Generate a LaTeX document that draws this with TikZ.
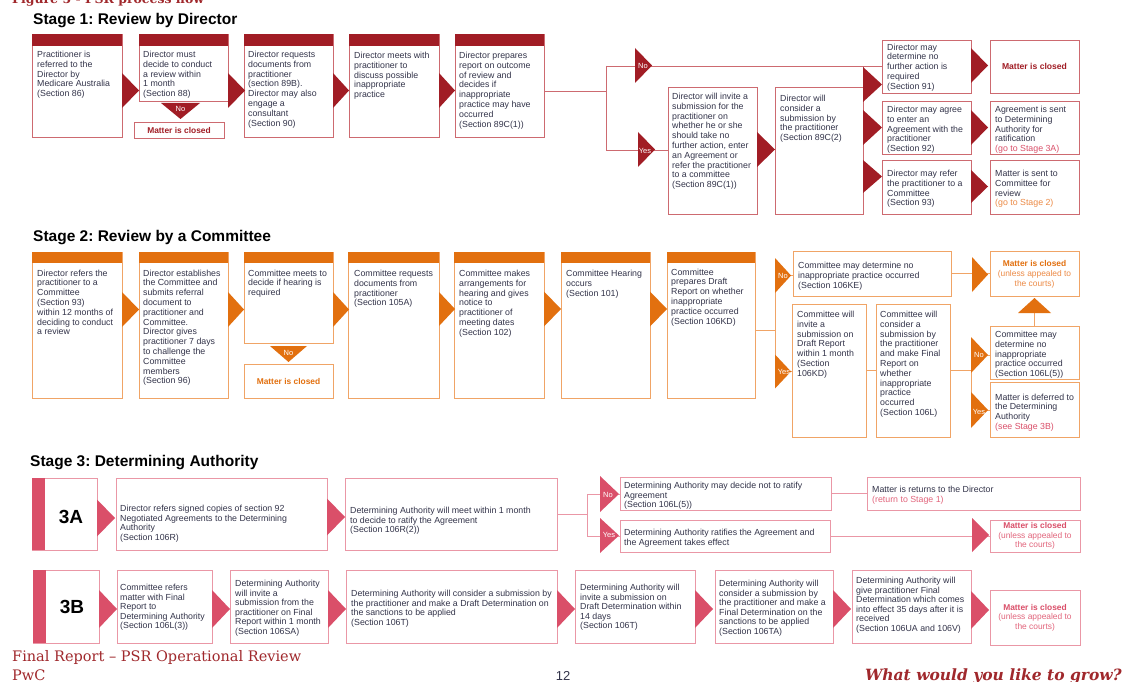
\documentclass[tikz,border=0pt]{standalone}
\usepackage{fontspec}
\setmainfont{Liberation Sans}
\newfontfamily\ftserif{DejaVu Serif}
\usetikzlibrary{fit}
\frenchspacing
\definecolor{rA}{HTML}{A11D25}
\definecolor{rAl}{HTML}{CD6A70}
\definecolor{oB}{HTML}{E2700F}
\definecolor{oBl}{HTML}{F0A466}
\definecolor{oBt}{HTML}{EC8A45}
\definecolor{pC}{HTML}{DA4F69}
\definecolor{pCl}{HTML}{EA97A6}
\definecolor{pCt}{HTML}{E2657C}
\definecolor{txc}{HTML}{33344A}
\definecolor{foot}{HTML}{A0282C}
\newcommand\rtri[5]{\fill[#1] (#2,#3-#5) -- (#2+#4,#3) -- (#2,#3+#5) -- cycle;}
\newcommand\hdr[3]{\fill[#1] (#2.north west) rectangle ([yshift=-#3pt]#2.north east);}
\tikzset{
 bA/.style={draw=rAl, line width=0.9pt, inner sep=0pt},
 bB/.style={draw=oBl, line width=0.9pt, inner sep=0pt},
 bC/.style={draw=pCl, line width=0.9pt, inner sep=0pt},
 lA/.style={draw=rAl, line width=0.9pt},
 lB/.style={draw=oBl, line width=0.9pt},
 lC/.style={draw=pCl, line width=0.9pt},
 tx/.style={font=\fontsize{8.8}{9.8}\selectfont, text=txc, align=left, inner sep=0pt, anchor=north west},
 tx3/.style={tx, font=\fontsize{8.8}{9.6}\selectfont},
 lab/.style={font=\fontsize{7.5}{8}\selectfont, text=white, inner sep=0pt},
 ttl/.style={font=\bfseries\fontsize{15.5}{18}\selectfont, anchor=west, inner sep=0pt},
 cl/.style={font=\fontsize{8.4}{9.7}\selectfont, inner sep=0pt, align=center},
}
\begin{document}
\begin{tikzpicture}[x=1pt,y=-1pt]
\path[use as bounding box] (0,0) rectangle (1125,682);
\clip (0,0) rectangle (1125,682);
\fill[white] (0,0) rectangle (1125,682);
\node[anchor=base west, inner sep=0pt, font=\ftserif\bfseries\fontsize{12.5}{14}\selectfont, text=foot] (fig) at (12,4) {Figure 5 - PSR process flow};

% ---------------- Stage 1 ----------------
\node[ttl] (t1) at (33,21) {Stage 1: Review by Director};
\node[bA, fit={(32,34)(122,137)}] (a1) {};
\node[bA, fit={(139,34)(228,101)}] (a2) {};
\node[bA, fit={(244,34)(333,137)}] (a3) {};
\node[bA, fit={(349,34)(439,137)}] (a4) {};
\node[bA, fit={(455,34)(544,137)}] (a5) {};
\foreach \n in {a1,a2,a3,a4,a5}{\hdr{rA}{\n}{12}}
\node[bA, fit={(134,122)(224,138)}] (a2c) {};
\node[bA, fit={(668,87)(757,214)}] (ainv) {};
\node[bA, fit={(775,87)(863,214)}] (acon) {};
\node[bA, fit={(882,40)(971,93)}] (d1) {};
\node[bA, fit={(882,101)(971,154)}] (d2) {};
\node[bA, fit={(882,160)(971,214)}] (d3) {};
\node[bA, fit={(990,40)(1079,93)}] (e1) {};
\node[bA, fit={(990,101)(1079,154)}] (e2) {};
\node[bA, fit={(990,160)(1079,214)}] (e3) {};

\coordinate (s1j) at (606,91);
\coordinate (s1n) at (606,66);
\coordinate (s1y) at (606,150);
\draw[lA] (a5.east |- s1j) -- (s1j);
\draw[lA] (s1n) -- (s1y);
\draw[lA] (s1n) -- (d1.west |- s1n);
\draw[lA] (s1y) -- (ainv.west |- s1y);
\draw[lA] (acon.north east) -- (acon.north east |- s1n);

\rtri{rA}{122}{90.5}{17}{17.5}
\rtri{rA}{228}{90.5}{17}{17.5}
\rtri{rA}{333}{90.5}{16}{17.5}
\rtri{rA}{439}{90.5}{16}{17.5}
\fill[rA] (161,103) -- (200,103) -- (180.5,119) -- cycle;
\node[lab] (l1) at (180.5,109) {No};
\rtri{rA}{635}{65.5}{17}{17.5}
\node[lab] (l2) at (643,66) {No};
\rtri{rA}{638}{149.5}{17}{17.5}
\node[lab] (l3) at (645,151) {Yes};
\rtri{rA}{757}{149.5}{18}{17.5}
\rtri{rA}{863}{84.5}{19}{17.5}
\rtri{rA}{863}{127.5}{19}{17.5}
\rtri{rA}{863}{176.5}{19}{16.5}
\rtri{rA}{971}{65.5}{17}{17.5}
\rtri{rA}{971}{127.5}{17}{17.5}
\rtri{rA}{971}{186.5}{17}{16.5}

\node[tx] (a1t) at (37,51) {Practitioner is\\referred to the\\Director by\\Medicare Australia\\(Section 86)};
\node[tx] (a2t) at (143,51) {Director must\\decide to conduct\\ a review within\\1 month\\(Section 88)};
\node[cl, text=rA, font=\bfseries\fontsize{8.4}{9}\selectfont] (a2ct) at (a2c.center) {Matter is closed};
\node[tx] (a3t) at (248,51) {Director requests\\documents from\\practitioner\\(section 89B).\\Director may also\\engage a\\consultant\\(Section 90)};
\node[tx] (a4t) at (354,52) {Director meets with\\practitioner to\\discuss possible\\inappropriate\\practice};
\node[tx] (a5t) at (459,52) {Director prepares\\report on outcome\\of review and\\decides if\\inappropriate\\practice may have\\occurred\\(Section 89C(1))};
\node[tx] (ainvt) at (672,93) {Director will invite a\\submission for the\\practitioner on\\whether he or she\\should take no\\further action, enter\\an Agreement or\\refer the practitioner\\to a committee\\(Section 89C(1))};
\node[tx] (acont) at (780,95) {Director will\\consider a\\submission by\\the practitioner\\(Section 89C(2)};
\node[tx] (d1t) at (887,43.5) {Director may\\determine no\\further action is\\required\\(Section 91)};
\node[tx] (d2t) at (887,106) {Director may agree\\to enter an\\Agreement with the\\practitioner\\(Section 92)};
\node[tx] (d3t) at (887,170) {Director may refer\\the practitioner to a\\Committee\\(Section 93)};
\node[cl, text=rA, font=\bfseries\fontsize{8.6}{9}\selectfont] (e1t) at (e1.center) {Matter is closed};
\node[tx] (e2t) at (995,106) {Agreement is sent\\to Determining\\Authority for\\ratification\\{\color{pC}(go to Stage 3A)}};
\node[tx] (e3t) at (995,170) {Matter is sent to\\Committee for\\review\\{\color{oBt}(go to Stage 2)}};

% ---------------- Stage 2 ----------------
\node[ttl] (t2) at (33,238) {Stage 2: Review by a Committee};
\node[bB, fit={(32,252)(122,398)}] (b1) {};
\node[bB, fit={(139,252)(228,398)}] (b2) {};
\node[bB, fit={(244,252)(333,343)}] (b3) {};
\node[bB, fit={(348,252)(439,398)}] (b4) {};
\node[bB, fit={(454,252)(544,398)}] (b5) {};
\node[bB, fit={(561,252)(650,398)}] (b6) {};
\node[bB, fit={(667,252)(755,398)}] (b7) {};
\foreach \n in {b1,b2,b3,b4,b5,b6,b7}{\hdr{oB}{\n}{11}}
\node[bB, fit={(244,364)(333,398)}] (b3c) {};
\node[bB, fit={(793,251)(951,296)}] (bk) {};
\node[bB, fit={(990,251)(1079,296)}] (bcl) {};
\node[bB, fit={(792,304)(866,437)}] (binv) {};
\node[bB, fit={(876,304)(950,437)}] (bcon) {};
\node[bB, fit={(990,326)(1079,379)}] (bl5) {};
\node[bB, fit={(990,382)(1079,437)}] (bdf) {};

\coordinate (s2j) at (775,330);
\coordinate (s2n) at (775,275.5);
\coordinate (s2y) at (775,371.5);
\draw[lB] (b7.east |- s2j) -- (s2j);
\draw[lB] (s2n) -- (s2y);
\draw[lB] (s2n) -- (bk.west |- s2n);
\draw[lB] (s2y) -- (binv.west |- s2y);
\draw[lB] (bk.east) -- (bcl.west);
\draw[lB] (binv.east) -- (bcon.west);
\coordinate (s2k) at (971,370.5);
\coordinate (s2kn) at (971,355);
\coordinate (s2ky) at (971,410);
\draw[lB] (bcon.east) -- (s2k);
\draw[lB] (s2kn) -- (s2ky);
\draw[lB] (s2kn) -- (bl5.west |- s2kn);
\draw[lB] (s2ky) -- (bdf.west |- s2ky);
\coordinate (s2up) at (1034.5,313);
\draw[lB] (bl5.north) -- (s2up);
\fill[oB] (1018,313) -- (1051,313) -- (1034.5,298) -- cycle;

\rtri{oB}{122}{309.5}{17}{17.5}
\rtri{oB}{228}{309.5}{16}{17.5}
\rtri{oB}{333}{309.5}{16}{17.5}
\rtri{oB}{439}{309}{16}{17}
\rtri{oB}{544}{309}{17}{17.5}
\rtri{oB}{650}{309}{17}{17.5}
\fill[oB] (270,346) -- (307,346) -- (288.5,362) -- cycle;
\node[lab] (l4) at (288.5,353) {No};
\rtri{oB}{775}{275.5}{16}{17.5}
\node[lab] (l5) at (783,276) {No};
\rtri{oB}{775}{371.5}{16}{17}
\node[lab] (l6) at (784,372) {Yes};
\rtri{oB}{972}{274.5}{16}{17.5}
\rtri{oB}{971}{355}{17}{18}
\node[lab] (l7) at (979,355) {No};
\rtri{oB}{971}{410}{17}{18}
\node[lab] (l8) at (979,412) {Yes};

\node[tx] (b1t) at (37,269.5) {Director refers the\\practitioner to a\\Committee\\(Section 93)\\within 12 months of\\deciding to conduct\\a review};
\node[tx] (b2t) at (143,269.5) {Director establishes\\the Committee and\\submits referral\\document to\\practitioner and\\Committee.\\Director gives\\practitioner 7 days\\to challenge the\\Committee\\members\\(Section 96)};
\node[tx] (b3t) at (248,269.5) {Committee meets to\\decide if hearing is\\required};
\node[cl, text=oB, font=\bfseries\fontsize{8.4}{9}\selectfont] (b3ct) at (b3c.center) {Matter is closed};
\node[tx] (b4t) at (354,270) {Committee requests\\documents from\\practitioner\\(Section 105A)};
\node[tx] (b5t) at (459,270) {Committee makes\\arrangements for\\hearing and gives\\notice to\\practitioner of\\meeting dates\\(Section 102)};
\node[tx] (b6t) at (566,270) {Committee Hearing\\occurs\\(Section 101)};
\node[tx] (b7t) at (671,268.5) {Committee\\prepares Draft\\Report on whether\\inappropriate\\practice occurred\\(Section 106KD)};
\node[tx] (bkt) at (798,262) {Committee may determine no\\inappropriate practice occurred\\(Section 106KE)};
\node[cl] (bclt) at ([yshift=-1pt]bcl.center) {{\color{oB}\bfseries Matter is closed}\\{\color{oBt}(unless appealed to}\\{\color{oBt}the courts)}};
\node[tx] (binvt) at (797,311) {Committee will\\invite a\\submission on\\Draft Report\\within 1 month\\(Section\\106KD)};
\node[tx] (bcont) at (880,311) {Committee will\\consider a\\submission by\\the practitioner\\and make Final\\Report on\\whether\\inappropriate\\practice\\occurred\\(Section 106L)};
\node[tx] (bl5t) at (995,331) {Committee may\\determine no\\inappropriate\\practice occurred\\(Section 106L(5))};
\node[tx] (bdft) at (995,393.5) {Matter is deferred to\\the Determining\\Authority\\{\color{pC}(see Stage 3B)}};

% ---------------- Stage 3 ----------------
\node[ttl] (t3) at (30,463) {Stage 3: Determining Authority};
\node[bC, fit={(32,478)(97,550)}] (c3a) {};
\fill[pC] (c3a.north west) rectangle ([xshift=13pt]c3a.south west);
\node[font=\bfseries\fontsize{19}{20}\selectfont, inner sep=0pt] (c3al) at (71,517) {3A};
\node[bC, fit={(116,478)(327,550)}] (ca1) {};
\node[bC, fit={(345,478)(557,550)}] (ca2) {};
\node[bC, fit={(620,477)(831,510)}] (cn) {};
\node[bC, fit={(867,477)(1080,510)}] (cr) {};
\node[bC, fit={(620,520)(830,552)}] (cy) {};
\node[bC, fit={(990,520)(1080,552)}] (ccl) {};

\coordinate (s3j) at (587,514);
\coordinate (s3n) at (587,494);
\coordinate (s3y) at (587,536);
\draw[lC] (ca2.east) -- (s3j);
\draw[lC] (s3n) -- (s3y);
\draw[lC] (s3n) -- (cn.west |- s3n);
\draw[lC] (s3y) -- (cy.west |- s3y);
\draw[lC] (cn.east) -- (cr.west);
\draw[lC] (cy.east) -- (ccl.west);

\rtri{pC}{97}{518}{18}{18.5}
\rtri{pC}{327}{517}{18}{18.5}
\rtri{pC}{600}{494}{19}{18}
\node[lab] (l9) at (608,495) {No};
\rtri{pC}{600}{535.5}{19}{17.5}
\node[lab] (l10) at (609,535) {Yes};
\rtri{pC}{972}{535}{17}{17}

\node[tx3] (ca1t) at (120,505) {Director refers signed copies of section 92\\Negotiated Agreements to the Determining\\Authority\\(Section 106R)};
\node[tx3] (ca2t) at (350,507) {Determining Authority will meet within 1 month\\to decide to ratify the Agreement\\(Section 106R(2))};
\node[tx3] (cnt) at (624,482) {Determining Authority may decide not to ratify\\Agreement\\(Section 106L(5))};
\node[tx3] (crt) at (872,486) {Matter is returns to the Director\\{\color{pCt}(return to Stage 1)}};
\node[tx3] (cyt) at (624,529) {Determining Authority ratifies the Agreement and\\the Agreement takes effect};
\node[cl, font=\fontsize{8.4}{9.5}\selectfont] (cclt) at (ccl.center) {{\color{pC}\bfseries Matter is closed}\\{\color{pCt}(unless appealed to}\\{\color{pCt}the courts)}};

\node[bC, fit={(33,570)(99,643)}] (c3b) {};
\fill[pC] (c3b.north west) rectangle ([xshift=13pt]c3b.south west);
\node[font=\bfseries\fontsize{19}{20}\selectfont, inner sep=0pt] (c3bl) at (72,607) {3B};
\node[bC, fit={(117,570)(212,643)}] (cb1) {};
\node[bC, fit={(230,570)(328,643)}] (cb2) {};
\node[bC, fit={(346,570)(557,643)}] (cb3) {};
\node[bC, fit={(575,570)(695,643)}] (cb4) {};
\node[bC, fit={(715,570)(833,643)}] (cb5) {};
\node[bC, fit={(852,570)(971,643)}] (cb6) {};
\node[bC, fit={(990,590)(1080,645)}] (cb7) {};
\rtri{pC}{99}{609}{18}{19}
\rtri{pC}{212}{609}{18}{19}
\rtri{pC}{328}{609}{18}{19}
\rtri{pC}{557}{609}{18}{19}
\rtri{pC}{695}{609}{18}{19}
\rtri{pC}{833}{609}{18}{19}
\rtri{pC}{971}{610}{18}{19}

\node[tx3] (cb1t) at (120,584) {Committee refers\\matter with Final\\Report to\\Determining Authority\\(Section 106L(3))};
\node[tx3] (cb2t) at (235,580) {Determining Authority\\will invite a\\submission from the\\practitioner on Final\\Report within 1 month\\(Section 106SA)};
\node[tx3] (cb3t) at (351,590) {Determining Authority will consider a submission by\\the practitioner and make a Draft Determination on\\the sanctions to be applied\\(Section 106T)};
\node[tx3] (cb4t) at (580,584) {Determining Authority will\\invite a submission on\\Draft Determination within\\14 days\\(Section 106T)};
\node[tx3] (cb5t) at (719,580) {Determining Authority will\\consider a submission by\\the practitioner and make a\\Final Determination on the\\sanctions to be applied\\(Section 106TA)};
\node[tx3] (cb6t) at (856,577) {Determining Authority will\\give practitioner Final\\Determination which comes\\into effect 35 days after it is\\received\\(Section 106UA and 106V)};
\node[cl, font=\fontsize{8.4}{9.5}\selectfont] (cb7t) at (cb7.center) {{\color{pC}\bfseries Matter is closed}\\{\color{pCt}(unless appealed to}\\{\color{pCt}the courts)}};

% ---------------- Footer ----------------
\node[anchor=base west, inner sep=0pt, font=\ftserif\fontsize{14.5}{16}\selectfont, text=foot] (f1) at (12,661) {Final Report – PSR Operational Review};
\node[anchor=base west, inner sep=0pt, font=\ftserif\fontsize{14.5}{16}\selectfont, text=foot] (f2) at (12,680) {PwC};
\node[anchor=base, inner sep=0pt, font=\fontsize{13}{15}\selectfont, text=txc] (f3) at (563,680) {12};
\node[anchor=base east, inner sep=0pt, font=\ftserif\bfseries\itshape\fontsize{15.5}{17}\selectfont, text=foot] (f4) at (1122,680) {What would you like to grow?};
\end{tikzpicture}
\end{document}
